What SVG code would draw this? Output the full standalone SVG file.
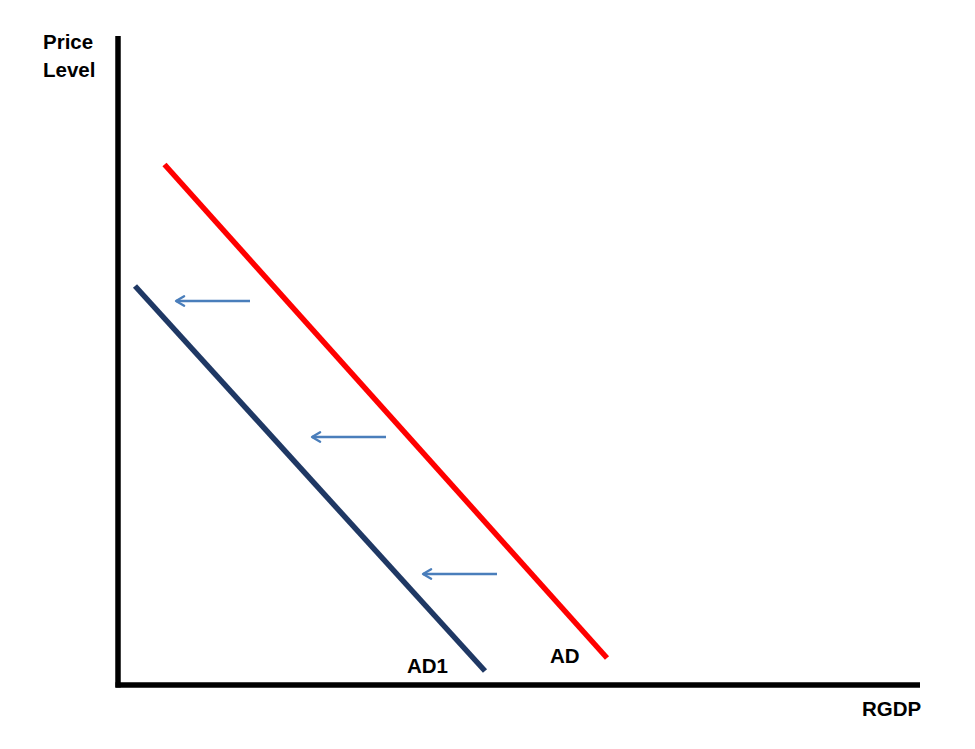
<svg xmlns="http://www.w3.org/2000/svg" width="975" height="749" viewBox="0 0 975 749">
<style>
.lbl{font-family:"Liberation Sans",Arial,sans-serif;font-weight:bold;font-size:20.5px;fill:#000}
.axis{stroke:#000;stroke-width:5.5;fill:none}
.shift{stroke:#4a7ebb;stroke-width:2.5;fill:none}
</style>
<defs>
<marker id="ah" viewBox="0 0 10 10" refX="8.5" refY="5" markerWidth="5" markerHeight="5" orient="auto" markerUnits="strokeWidth">
<path d="M2,1.2 L8.5,5 L2,8.8" fill="none" stroke="#4a7ebb" stroke-width="1.8" stroke-linecap="round" stroke-linejoin="round"/>
</marker>
</defs>
<rect width="975" height="749" fill="#fff"/>
<g id="axes">
<line class="axis" x1="118" y1="36" x2="118" y2="687.5"/>
<line class="axis" x1="115.5" y1="685" x2="920" y2="685"/>
</g>
<g id="AD">
<line x1="164.5" y1="164.5" x2="607" y2="658" stroke="#ff0000" stroke-width="5.5"/>
<text class="lbl" x="550" y="663">AD</text>
</g>
<g id="AD1">
<line x1="135" y1="286" x2="485" y2="671" stroke="#1f3864" stroke-width="5.5"/>
<text class="lbl" x="407" y="673">AD1</text>
</g>
<g id="connectors">
<line class="shift" x1="250" y1="301" x2="176" y2="301" marker-end="url(#ah)"/>
<line class="shift" x1="386" y1="437" x2="312" y2="437" marker-end="url(#ah)"/>
<line class="shift" x1="497" y1="574" x2="423" y2="574" marker-end="url(#ah)"/>
</g>
<g id="labels">
<text class="lbl" x="43" y="49">Price</text>
<text class="lbl" x="43" y="77">Level</text>
<text class="lbl" x="862" y="716">RGDP</text>
</g>
</svg>
